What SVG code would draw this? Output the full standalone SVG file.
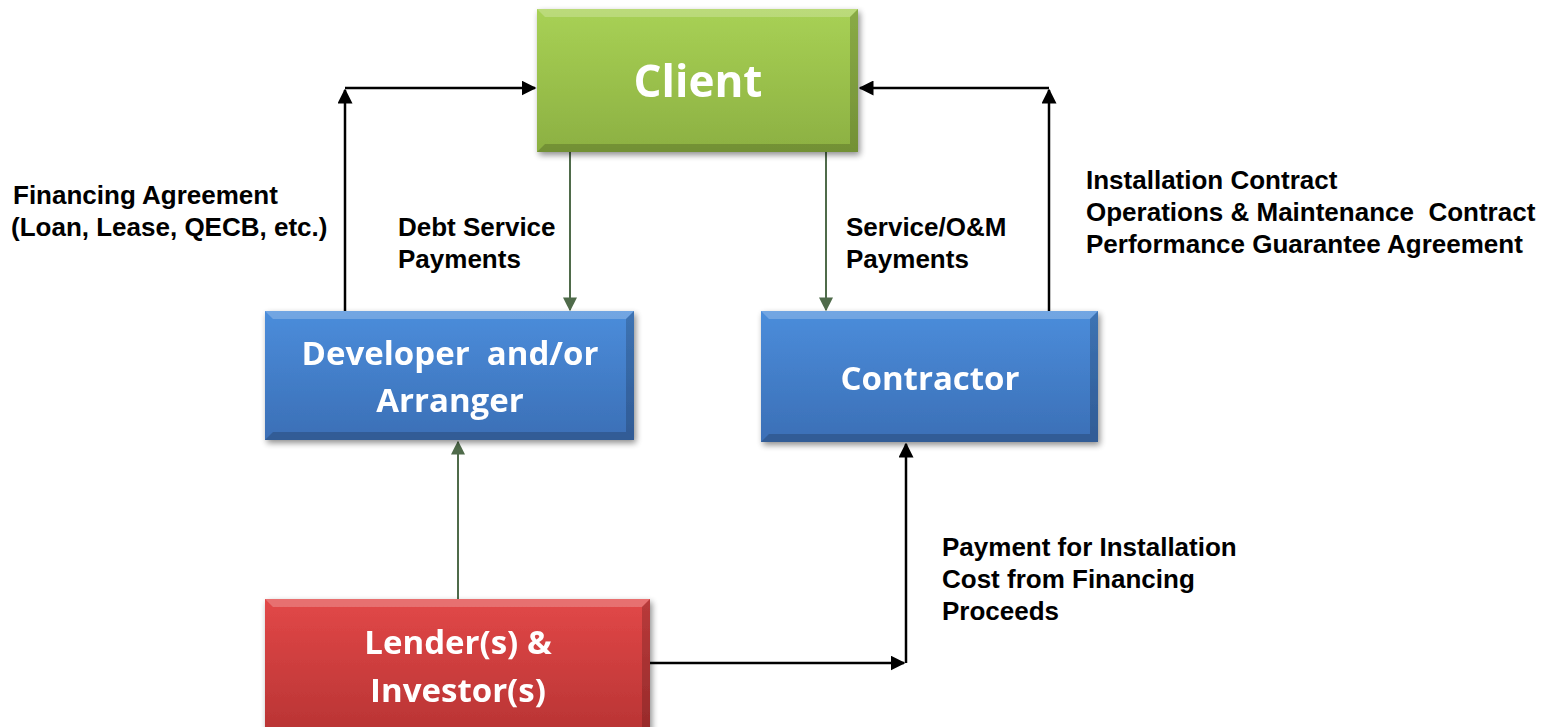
<svg xmlns="http://www.w3.org/2000/svg" width="1557" height="727" viewBox="0 0 1557 727">
  <style>
    .label { font-family: "Liberation Sans", Arial, sans-serif; font-weight: bold; font-size: 26px; fill: #000; }
    .title { font-family: "Open Sans", "Noto Sans", sans-serif; font-weight: bold; fill: #fff; text-anchor: middle; }
    .blk { fill: none; stroke: #000; stroke-width: 2.5; }
    .grn { fill: none; stroke: #4f6b4a; stroke-width: 2; }
    .hl { fill: #fff; opacity: 0.22; }
    .sh { fill: #000; opacity: 0.18; }
  </style>
  <defs>
    <linearGradient id="gGreen" x1="0" y1="0" x2="0" y2="1">
      <stop offset="0" stop-color="#a8d155"/>
      <stop offset="1" stop-color="#8cb042"/>
    </linearGradient>
    <linearGradient id="gBlue" x1="0" y1="0" x2="0" y2="1">
      <stop offset="0" stop-color="#4b8ddb"/>
      <stop offset="1" stop-color="#3b6fb6"/>
    </linearGradient>
    <linearGradient id="gRed" x1="0" y1="0" x2="0" y2="1">
      <stop offset="0" stop-color="#e24848"/>
      <stop offset="1" stop-color="#b93434"/>
    </linearGradient>
    <filter id="shadow" x="-10%" y="-10%" width="125%" height="130%">
      <feGaussianBlur in="SourceAlpha" stdDeviation="3"/>
      <feOffset dx="2" dy="3" result="b"/>
      <feComponentTransfer><feFuncA type="linear" slope="0.45"/></feComponentTransfer>
      <feMerge><feMergeNode/><feMergeNode in="SourceGraphic"/></feMerge>
    </filter>
    <marker id="arrBlk" viewBox="0 0 10 10" refX="9" refY="5" markerWidth="6" markerHeight="6" markerUnits="strokeWidth" orient="auto">
      <path d="M0,0 L10,5 L0,10 z" fill="#000"/>
    </marker>
    <marker id="arrGrn" viewBox="0 0 10 10" refX="9" refY="5" markerWidth="7" markerHeight="7" markerUnits="strokeWidth" orient="auto">
      <path d="M0,0 L10,5 L0,10 z" fill="#4f6b4a"/>
    </marker>
  </defs>

  <rect width="1557" height="727" fill="#fff"/>

  <!-- connectors -->
  <g id="connectors">
    <path class="blk" d="M345,311 V90" marker-end="url(#arrBlk)"/>
    <path class="blk" d="M345,88 H535" marker-end="url(#arrBlk)"/>
    <path class="grn" d="M570,152 V310" marker-end="url(#arrGrn)"/>
    <path class="grn" d="M826,152 V310" marker-end="url(#arrGrn)"/>
    <path class="blk" d="M1049,311 V90" marker-end="url(#arrBlk)"/>
    <path class="blk" d="M1049,88 H860" marker-end="url(#arrBlk)"/>
    <path class="grn" d="M458,599 V442" marker-end="url(#arrGrn)"/>
    <path class="blk" d="M650,663 H904" marker-end="url(#arrBlk)"/>
    <path class="blk" d="M906,663 V444" marker-end="url(#arrBlk)"/>
  </g>

  <!-- Client -->
  <g id="client" filter="url(#shadow)">
    <rect x="537" y="9" width="321" height="143" fill="url(#gGreen)"/>
    <polygon class="hl" points="537,9 858,9 850,17 545,17"/>
    <polygon class="sh" points="537,152 858,152 850,144 545,144"/>
    <polygon class="sh" points="858,9 858,152 850,144 850,17"/>
    <text class="title" x="698" y="97" font-size="44">Client</text>
  </g>

  <!-- Developer and/or Arranger -->
  <g id="developer" filter="url(#shadow)">
    <rect x="265" y="311" width="369" height="129" fill="url(#gBlue)"/>
    <polygon class="hl" points="265,311 634,311 626,319 273,319"/>
    <polygon class="sh" points="265,440 634,440 626,432 273,432"/>
    <polygon class="sh" points="634,311 634,440 626,432 626,319"/>
    <text class="title" x="450" y="365" font-size="33" xml:space="preserve">Developer  and/or</text>
    <text class="title" x="450" y="412" font-size="33">Arranger</text>
  </g>

  <!-- Contractor -->
  <g id="contractor" filter="url(#shadow)">
    <rect x="761" y="311" width="337" height="131" fill="url(#gBlue)"/>
    <polygon class="hl" points="761,311 1098,311 1090,319 769,319"/>
    <polygon class="sh" points="761,442 1098,442 1090,434 769,434"/>
    <polygon class="sh" points="1098,311 1098,442 1090,434 1090,319"/>
    <text class="title" x="930" y="390" font-size="33">Contractor</text>
  </g>

  <!-- Lender(s) & Investor(s) -->
  <g id="lender" filter="url(#shadow)">
    <rect x="265" y="599" width="385" height="132" fill="url(#gRed)"/>
    <polygon class="hl" points="265,599 650,599 642,607 273,607"/>
    <polygon class="sh" points="650,599 650,731 642,731 642,607"/>
    <text class="title" x="458" y="654" font-size="33">Lender(s) &amp;</text>
    <text class="title" x="458" y="702" font-size="33">Investor(s)</text>
  </g>

  <!-- connector labels -->
  <g id="labels">
    <text class="label" x="13" y="204">Financing Agreement</text>
    <text class="label" x="11" y="236">(Loan, Lease, QECB, etc.)</text>
    <text class="label" x="398" y="236">Debt Service</text>
    <text class="label" x="398" y="268">Payments</text>
    <text class="label" x="846" y="236">Service/O&amp;M</text>
    <text class="label" x="846" y="268">Payments</text>
    <text class="label" x="1086" y="189">Installation Contract</text>
    <text class="label" x="1086" y="221" xml:space="preserve">Operations &amp; Maintenance  Contract</text>
    <text class="label" x="1086" y="253">Performance Guarantee Agreement</text>
    <text class="label" x="942" y="556">Payment for Installation</text>
    <text class="label" x="942" y="588">Cost from Financing</text>
    <text class="label" x="942" y="620">Proceeds</text>
  </g>
</svg>
